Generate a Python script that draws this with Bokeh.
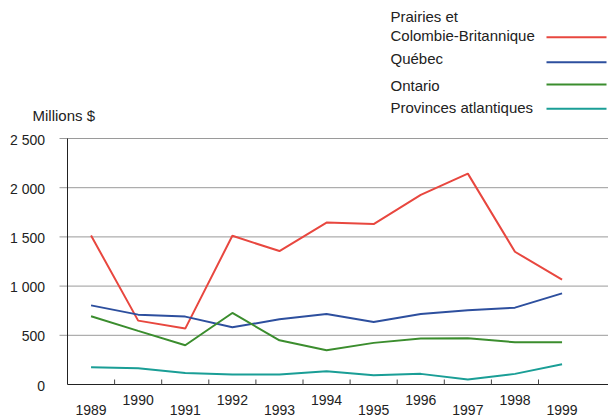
from bokeh.plotting import figure
from bokeh.models import Range1d
from bokeh.core.properties import value
from bokeh.embed import file_html
from bokeh.resources import INLINE

years = [1989, 1990, 1991, 1992, 1993, 1994, 1995, 1996, 1997, 1998, 1999]
prairies_cb = [1514, 649, 568, 1511, 1356, 1646, 1630, 1927, 2143, 1349, 1065]
quebec = [804, 710, 690, 581, 662, 717, 636, 717, 754, 781, 926]
ontario = [693, 545, 399, 727, 449, 348, 423, 467, 470, 429, 429]
atlantiques = [176, 166, 118, 101, 101, 135, 95, 108, 51, 108, 206]

series_names = ["Prairies et\nColombie-Britannique", "Québec", "Ontario", "Provinces atlantiques"]
series_values = [prairies_cb, quebec, ontario, atlantiques]
series_colors = ["#e8473f", "#2d4f9e", "#3b8d2e", "#1a9e96"]

y_ticks = [0, 500, 1000, 1500, 2000, 2500]
y_tick_labels = ["0", "500", "1 000", "1 500", "2 000", "2 500"]
y_title = "Millions $"

FONT = value("Liberation Sans")
TXT = "#222222"
GRID = "#9a9a9a"

W, H = 608, 417
X0_PX, PX_PER_YEAR = 67.0, 47.1      # left axis position, band width
Y0_PX, PX_PER_UNIT = 384.0, 0.0984   # zero line position, scale
BASE_ADJ = 6.0                       # baseline correction for text glyphs

x_lo = 1988.5 - X0_PX / PX_PER_YEAR
x_hi = 1988.5 + (W - X0_PX) / PX_PER_YEAR
y_lo = -(H - Y0_PX) / PX_PER_UNIT
y_hi = Y0_PX / PX_PER_UNIT

def dx(px):  # pixel offset -> data offset along x
    return px / PX_PER_YEAR

def dy(px):  # pixel offset (downwards) -> data offset along y
    return -px / PX_PER_UNIT

def ty(px):  # text baseline pixel row -> data y
    return dy(px - BASE_ADJ - Y0_PX)

p = figure(width=W, height=H, output_backend="svg", toolbar_location=None,
           x_range=Range1d(x_lo, x_hi), y_range=Range1d(y_lo, y_hi),
           x_axis_location=None, y_axis_location=None,
           min_border=0, min_border_left=0, min_border_right=0,
           min_border_top=0, min_border_bottom=0)
p.outline_line_color = None
p.grid.visible = False
p.background_fill_color = "white"
p.border_fill_color = "white"

x_axis_start = 1988.5
ymax = y_ticks[-1]

# gridlines (extend 8px left of the axis as ticks)
p.segment(x0=[x_axis_start + dx(-8)] * (len(y_ticks) - 1), y0=y_ticks[1:],
          x1=[x_hi] * (len(y_ticks) - 1), y1=y_ticks[1:], line_color=GRID, line_width=1)
# axis lines
p.segment(x0=[x_axis_start, x_axis_start], y0=[0, 0], x1=[x_axis_start, x_hi], y1=[ymax, 0],
          line_color=TXT, line_width=1)
# x separators between years (inward ticks)
seps = [yr + 0.5 for yr in years[:-1]]
p.segment(x0=seps, y0=[0] * len(seps), x1=seps, y1=[-dy(5)] * len(seps),
          line_color="#444444", line_width=1)

# data lines
for vals, col in zip(series_values, series_colors):
    p.line(years, vals, line_color=col, line_width=2)

# y tick labels
p.text(x=[x_axis_start + dx(-22.5)] * len(y_ticks), y=[t + dy(1) for t in y_ticks], text=y_tick_labels,
       text_align="right", text_baseline="middle", text_font=FONT, text_font_size="14px",
       text_color=TXT)

# staggered year labels
lab_y = [ty(405) if yr % 2 == 0 else ty(415) for yr in years]
p.text(x=years, y=lab_y, text=[str(yr) for yr in years], text_align="center",
       text_baseline="alphabetic", text_font=FONT, text_font_size="14px", text_color=TXT)

# axis title
p.text(x=[x_axis_start + dx(32 - X0_PX)], y=[ty(121)], text=[y_title],
       text_baseline="alphabetic", text_font=FONT, text_font_size="15px", text_color=TXT)

# legend (text left, line right)
legend_text_px = [[21.5, 40.5], [63.5], [90.5], [113.0]]
legend_line_px = [36.7, 61.7, 84.0, 108.3]
lx_text = x_axis_start + dx(390 - X0_PX)
lx0 = x_axis_start + dx(546 - X0_PX)
lx1 = x_axis_start + dx(606 - X0_PX)
for name, col, tys, ly in zip(series_names, series_colors, legend_text_px, legend_line_px):
    parts = name.split("\n")
    p.text(x=[lx_text] * len(parts), y=[ty(t) for t in tys], text=parts,
           text_baseline="alphabetic", text_font=FONT, text_font_size="15px", text_color=TXT)
    p.segment(x0=[lx0], y0=[dy(ly - Y0_PX)], x1=[lx1], y1=[dy(ly - Y0_PX)],
              line_color=col, line_width=2)

open("out.html", "w").write(file_html(p, INLINE))
